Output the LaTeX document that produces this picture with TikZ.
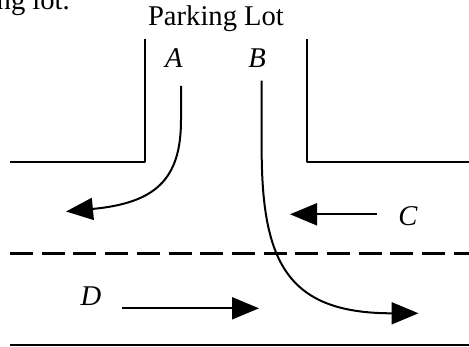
\documentclass[tikz,border=0pt]{standalone}
\usepackage{fontspec}
\setmainfont{Liberation Serif}
\usetikzlibrary{arrows.meta}
\begin{document}
\begin{tikzpicture}[
        x=1pt,
        y=-1pt,
        line join=round,
        every node/.style={font=\fontsize{28.6}{34}\selectfont, inner sep=0pt},
        wall/.style={line width=2pt},
        lane/.style={line width=2.7pt, dash pattern=on 23pt off 8.7pt},
        move/.style={line width=2pt, -{Triangle[length=27pt,width=22pt]}}
    ]
        \useasboundingbox (0,0) rectangle (469,347);
        % Cut-off caption text
        \node[anchor=base east] (cap) at (70,10) {ng lot.};
        % Parking lot entrance
        \draw[wall] (10,162) -- (145,162) -- (145,39);
        \draw[wall] (307,39) -- (307,162) -- (469,162);
        % Road: centre line and edge
        \draw[lane] (10,253.5) -- (469,253.5);
        \draw[wall] (10,345.5) -- (469,345.5);
        % Labels
        \node[anchor=base] (lot) at (216,26) {Parking Lot};
        \node (labA) at (174,58) {\textit{A}};
        \node (labB) at (257,58) {\textit{B}};
        \node (labC) at (408,216) {\textit{C}};
        \node (labD) at (91,296) {\textit{D}};
        % Ends of the paths
        \coordinate (A0) at (181,86);
        \coordinate (A1) at (181,120);
        \coordinate (A2) at (66,211.5);
        \coordinate (B0) at (261.7,80.7);
        \coordinate (B1) at (261.7,156.7);
        \coordinate (B2) at (418.5,313.3);
        \coordinate (C0) at (376.7,214.3);
        \coordinate (C1) at (290,214.3);
        \coordinate (D0) at (122.3,308.3);
        \coordinate (D1) at (259,308.3);
        % Paths of the cars
        \draw[move] (A0) -- (A1) .. controls (181,180) and (155,203) .. (A2);
        \draw[move] (B0) -- (B1) .. controls (263,265) and (290,313.3) .. (B2);
        \draw[move] (C0) -- (C1);
        \draw[move] (D0) -- (D1);
    \end{tikzpicture}
\end{document}
